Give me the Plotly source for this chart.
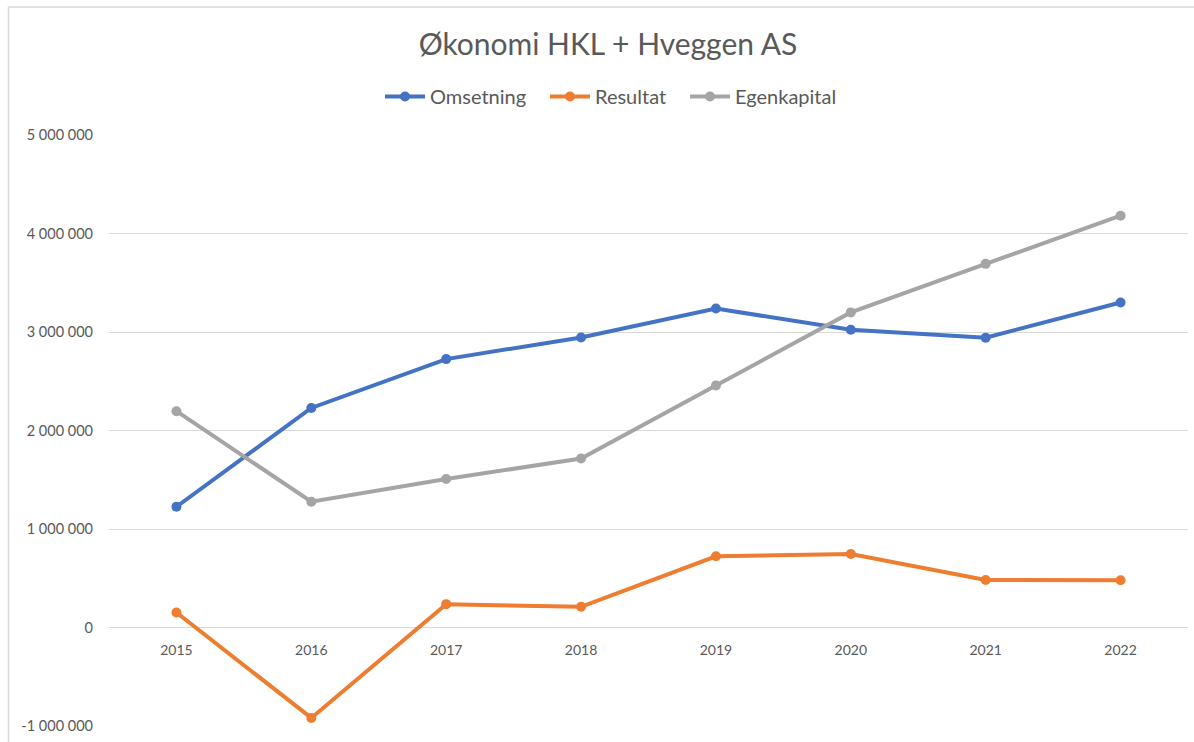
import plotly.graph_objects as go

years = ["2015", "2016", "2017", "2018", "2019", "2020", "2021", "2022"]
omsetning = [1226000, 2229000, 2725000, 2945000, 3238000, 3023000, 2942000, 3300000]
resultat = [152000, -918000, 237000, 210000, 723000, 747000, 483000, 480000]
egenkapital = [2196000, 1277000, 1507000, 1716000, 2456000, 3199000, 3692000, 4181000]
y_ticks = [-1000000, 0, 1000000, 2000000, 3000000, 4000000, 5000000]
y_ticktext = [f"{v:,}".replace(",", " ") for v in y_ticks]

W, H = 1194, 742
L, R, T, B = 109, 6, 134.5, 16
pw, ph = W - L - R, H - T - B

def px_x(x):
    return (x - L) / pw

def px_y(y):
    return 1 - (y - T) / ph

FONT = "Lato"
TXT = "#595959"

series = [("Omsetning", omsetning, "#4472C4", "legend", 380),
          ("Resultat", resultat, "#ED7D31", "legend2", 545),
          ("Egenkapital", egenkapital, "#A5A5A5", "legend3", 685)]

fig = go.Figure()
legends = {}
for name, vals, col, lg, lx in series:
    fig.add_trace(go.Scatter(x=years, y=vals, name=name, mode="lines+markers",
                             line=dict(color=col, width=4),
                             marker=dict(color=col, size=10), legend=lg, showlegend=True))
    legends[lg] = dict(orientation="h", x=px_x(lx), xanchor="left", y=px_y(96), yanchor="middle",
                       font=dict(size=20, color=TXT, family=FONT), itemwidth=40,
                       bgcolor="rgba(0,0,0,0)")

zero_pos = (y_ticks[0] * -1) / (y_ticks[-1] - y_ticks[0])

fig.update_layout(
    width=W, height=H,
    showlegend=True,
    margin=dict(l=L, r=R, t=T, b=B, autoexpand=False),
    paper_bgcolor="white", plot_bgcolor="white",
    font=dict(family=FONT, color=TXT),
    title=dict(text="Økonomi HKL + Hveggen AS", x=608 / W, xref="container", xanchor="center",
               y=1 - 44 / H, yref="container", yanchor="middle",
               font=dict(size=30, color=TXT, family=FONT)),
    xaxis=dict(type="category", range=[-0.5, 7.5], showgrid=False, showline=False,
               ticks="", anchor="free", position=zero_pos, zeroline=False,
               tickfont=dict(size=14, color=TXT, family=FONT), ticklabelstandoff=12),
    yaxis=dict(range=[y_ticks[0], y_ticks[-1]], tickvals=y_ticks, ticktext=y_ticktext,
               showgrid=True, gridcolor="#D9D9D9", gridwidth=1, zeroline=False,
               showline=False, ticks="", ticklabelstandoff=15,
               tickfont=dict(size=14.5, color=TXT, family=FONT)),
    shapes=[dict(type="rect", xref="paper", yref="paper",
                 x0=px_x(8.5), y0=-0.5, x1=1.5, y1=px_y(6.5),
                 line=dict(color="#D9D9D9", width=1.5), fillcolor="rgba(0,0,0,0)", layer="below")],
    **legends,
)

fig.write_html("out.html", config={"displayModeBar": False},
               post_script="document.body.style.margin='0';document.body.style.overflow='hidden';")
